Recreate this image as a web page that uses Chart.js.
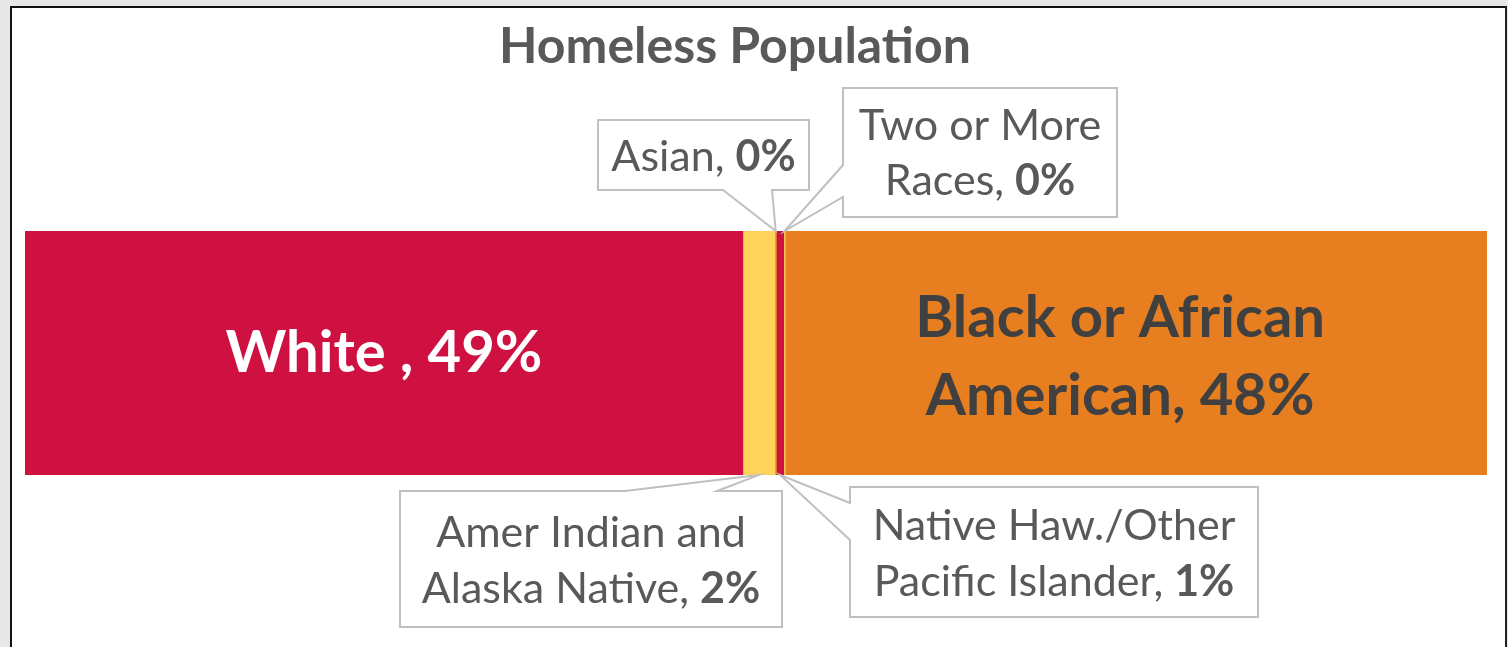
<!DOCTYPE html>
<html>
<head>
<meta charset="utf-8">
<script src="https://cdn.jsdelivr.net/npm/chart.js@4/dist/chart.umd.min.js"></script>
<style>
  html, body { margin:0; padding:0; background:#e7e7e7; width:1508px; height:647px; overflow:hidden; }
  #frame { position:absolute; left:10px; top:6px; width:1493px; height:639px; background:#fff;
           border-left:2px solid #111; border-top:2px solid #111; border-right:2px solid #222; }
  #wrap { position:absolute; left:0; top:0; width:1508px; height:647px; }
</style>
</head>
<body>
<div id="frame"></div>
<div id="wrap"><canvas id="c"></canvas></div>
<script>
// ---- data ----
const chartTitle = "Homeless Population";
const categories = [
  ["White "],
  ["Amer Indian and", "Alaska Native"],
  ["Asian"],
  ["Native Haw./Other", "Pacific Islander"],
  ["Two or More", "Races"],
  ["Black or African", "American"]
];
const values = [49.1, 2.2, 0.1, 0.5, 0.1, 48.0];   // percent of total
const colors = ["#CE1141", "#FFD25A", "#E77E1F", "#CE1141", "#FFD25A", "#E77E1F"];

const total = values.reduce((a, b) => a + b, 0);

// ---- styling / layout (not data) ----
const FONT = "Lato, 'Open Sans', sans-serif";
const TEXT_GRAY = "#595959";
const BOX_GRAY = "#c0c0c0";
const insideLabels = {
  0: { color: "#ffffff", size: 58, dx: 0, baselines: [372] },
  5: { color: "#404040", size: 58, dx: -16, baselines: [337, 415] }
};
const callouts = {
  1: { side: "bottom", box: [400, 491, 782, 627], gap: ["top", 625, 717], baselines: [547, 603] },
  2: { side: "top", box: [598, 120, 809, 190], gap: ["bottom", 723, 772], baselines: [171] },
  3: { side: "bottom", box: [850, 487, 1258, 617], gap: ["left", 503, 540], baselines: [540, 596] },
  4: { side: "top", box: [843, 88, 1117, 217], gap: ["left", 165, 197], baselines: [140, 195] }
};

function pctText(v) { return Math.round(v) + "%"; }

function drawRich(ctx, parts, cx, baseline, size, color) {
  let w = 0;
  parts.forEach(p => { ctx.font = (p.bold ? "bold " : "") + size + "px " + FONT; p.w = ctx.measureText(p.text).width; w += p.w; });
  let x = cx - w / 2;
  ctx.fillStyle = color;
  ctx.textAlign = "left";
  ctx.textBaseline = "alphabetic";
  parts.forEach(p => { ctx.font = (p.bold ? "bold " : "") + size + "px " + FONT; ctx.fillText(p.text, x, baseline); x += p.w; });
}

function labelLines(i, boldValue) {
  const lines = categories[i].map(t => [{ text: t, bold: false }]);
  const last = lines[lines.length - 1];
  last[0].text = last[0].text + ", ";
  last.push({ text: pctText(values[i]), bold: boldValue });
  return lines;
}

const annotate = {
  id: "annotate",
  afterDatasetsDraw(chart) {
    const ctx = chart.ctx;
    ctx.save();
    // title
    ctx.font = "bold 50px " + FONT;
    ctx.fillStyle = TEXT_GRAY;
    ctx.textAlign = "center";
    ctx.textBaseline = "alphabetic";
    ctx.fillText(chartTitle, 735, 63);

    values.forEach((v, i) => {
      const el = chart.getDatasetMeta(i).data[0];
      const p = el.getProps(["x", "base", "y", "height"], true);
      const cx = (p.x + p.base) / 2;
      const top = p.y - p.height / 2, bottom = p.y + p.height / 2;

      if (insideLabels[i]) {
        const s = insideLabels[i];
        const lines = categories[i].map(t => [{ text: t, bold: true }]);
        lines[lines.length - 1][0].text += ", " + pctText(v);
        lines.forEach((ln, k) => drawRich(ctx, ln, cx + s.dx, s.baselines[k], s.size, s.color));
      }
      if (callouts[i]) {
        const c = callouts[i];
        const [x1, y1, x2, y2] = c.box;
        const ax = cx, ay = c.side === "top" ? top : bottom;
        const [gs, g1, g2] = c.gap;
        ctx.beginPath();
        if (gs === "bottom") {
          ctx.moveTo(x1, y1); ctx.lineTo(x2, y1); ctx.lineTo(x2, y2);
          ctx.lineTo(g2, y2); ctx.lineTo(ax, ay); ctx.lineTo(g1, y2); ctx.lineTo(x1, y2);
        } else if (gs === "top") {
          ctx.moveTo(x1, y2); ctx.lineTo(x1, y1); ctx.lineTo(g1, y1); ctx.lineTo(ax, ay);
          ctx.lineTo(g2, y1); ctx.lineTo(x2, y1); ctx.lineTo(x2, y2);
        } else {
          ctx.moveTo(x1, y1); ctx.lineTo(x2, y1); ctx.lineTo(x2, y2); ctx.lineTo(x1, y2);
          ctx.lineTo(x1, g2); ctx.lineTo(ax, ay); ctx.lineTo(x1, g1);
        }
        ctx.closePath();
        ctx.fillStyle = "#ffffff";
        ctx.fill();
        ctx.lineWidth = 2;
        ctx.strokeStyle = BOX_GRAY;
        ctx.stroke();
        const bx = (x1 + x2) / 2;
        labelLines(i, true).forEach((ln, k) => drawRich(ctx, ln, bx, c.baselines[k], 43, TEXT_GRAY));
      }
    });
    ctx.restore();
  }
};

new Chart(document.getElementById("c"), {
  type: "bar",
  data: {
    labels: [""],
    datasets: values.map((v, i) => ({
      label: categories[i].join(" "),
      data: [v],
      backgroundColor: colors[i],
      borderWidth: 0,
      barPercentage: 1,
      categoryPercentage: 1
    }))
  },
  options: {
    indexAxis: "y",
    responsive: true,
    maintainAspectRatio: false,
    animation: false,
    layout: { padding: { left: 25, right: 21, top: 231, bottom: 172 } },
    scales: {
      x: { stacked: true, min: 0, max: total, display: false },
      y: { stacked: true, display: false }
    },
    plugins: { legend: { display: false }, tooltip: { enabled: false }, title: { display: false } }
  },
  plugins: [annotate]
});
</script>
</body>
</html>
